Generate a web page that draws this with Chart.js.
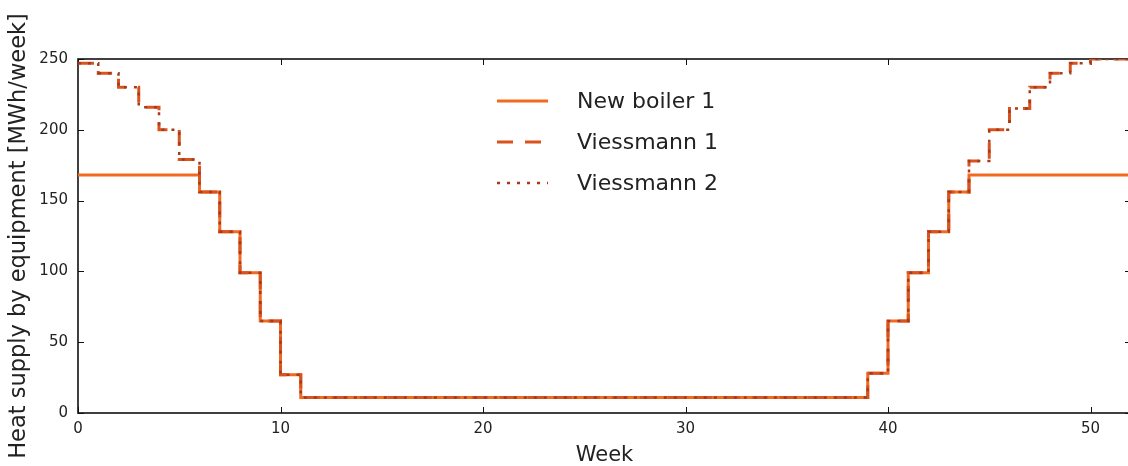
<!DOCTYPE html>
<html>
<head>
<meta charset="utf-8">
<script src="https://cdn.jsdelivr.net/npm/chart.js@4/dist/chart.umd.min.js"></script>
<style>
  html, body { margin: 0; padding: 0; background: #fff; overflow: hidden; }
</style>
</head>
<body>
<canvas id="heat__chart" width="1132" height="466"></canvas>
<script>
// week edges (0..52), each value holds from week i to week i+1
const weeks = [0, 1, 2, 3, 4, 5, 6, 7, 8, 9, 10, 11, 12, 13, 14, 15, 16, 17, 18, 19, 20,
  21, 22, 23, 24, 25, 26, 27, 28, 29, 30, 31, 32, 33, 34, 35, 36, 37, 38, 39, 40,
  41, 42, 43, 44, 45, 46, 47, 48, 49, 50, 51, 52];

const newBoiler1 = [168, 168, 168, 168, 168, 168, 156, 128, 99, 65, 27,
  11, 11, 11, 11, 11, 11, 11, 11, 11, 11, 11, 11, 11, 11, 11, 11, 11, 11, 11,
  11, 11, 11, 11, 11, 11, 11, 11, 11,
  28, 65, 99, 128, 156, 168, 168, 168, 168, 168, 168, 168, 168];

const viessmann1 = [247, 240, 230, 216, 200, 179, 156, 128, 99, 65, 27,
  11, 11, 11, 11, 11, 11, 11, 11, 11, 11, 11, 11, 11, 11, 11, 11, 11, 11, 11,
  11, 11, 11, 11, 11, 11, 11, 11, 11,
  28, 65, 99, 128, 156, 178, 200, 215, 230, 240, 247, 250, 250];

const viessmann2 = [247, 240, 230, 216, 200, 179, 156, 128, 99, 65, 27,
  11, 11, 11, 11, 11, 11, 11, 11, 11, 11, 11, 11, 11, 11, 11, 11, 11, 11, 11,
  11, 11, 11, 11, 11, 11, 11, 11, 11,
  28, 65, 99, 128, 156, 178, 200, 215, 230, 240, 247, 250, 250];

const seriesNames = ["New boiler 1", "Viessmann 1", "Viessmann 2"];
const xTicks = [0, 10, 20, 30, 40, 50];
const yTicks = [0, 50, 100, 150, 200, 250];

function toSteps(values) {
  return weeks.map((w, i) => ({ x: w, y: values[Math.min(i, values.length - 1)] }));
}

// ---------------------------------------- frame + inward ticks
const frameTicks = {
  id: "frameTicks",
  beforeDatasetsDraw(chart) {
    const { ctx, chartArea: a, scales } = chart;
    ctx.save();
    ctx.strokeStyle = "#111";
    ctx.lineWidth = 1;
    scales.x.ticks.forEach((t) => {
      const px = Math.round(scales.x.getPixelForValue(t.value)) + 0.5;
      ctx.beginPath();
      ctx.moveTo(px, a.bottom); ctx.lineTo(px, a.bottom - 6);
      ctx.moveTo(px, a.top); ctx.lineTo(px, a.top + 6);
      ctx.stroke();
    });
    scales.y.ticks.forEach((t) => {
      const py = Math.round(scales.y.getPixelForValue(t.value)) + 0.5;
      ctx.beginPath();
      ctx.moveTo(a.left, py); ctx.lineTo(a.left + 6, py);
      ctx.moveTo(a.right, py); ctx.lineTo(a.right - 6, py);
      ctx.stroke();
    });
    ctx.lineWidth = 1.6;
    ctx.strokeRect(a.left, a.top, a.right - a.left, a.bottom - a.top);
    ctx.restore();
  },
};

// ---------------------------------------- legend without frame
const plainLegend = {
  id: "plainLegend",
  afterDatasetsDraw(chart) {
    const ctx = chart.ctx;
    ctx.save();
    ctx.font = "22px 'DejaVu Sans'";
    ctx.textBaseline = "middle";
    ctx.fillStyle = "#222";
    chart.data.datasets.forEach((ds, i) => {
      const y = 101 + i * 41;
      ctx.strokeStyle = ds.borderColor;
      ctx.lineWidth = ds.borderWidth;
      ctx.setLineDash(ds.borderDash || []);
      ctx.beginPath();
      ctx.moveTo(497, y);
      ctx.lineTo(548, y);
      ctx.stroke();
      ctx.setLineDash([]);
      ctx.fillText(ds.label, 577, y + 1);
    });
    ctx.restore();
  },
};

var heatChart = new Chart(document.getElementById("heat__chart"), {
  type: "line",
  data: {
    datasets: [
      {
        label: seriesNames[0],
        data: toSteps(newBoiler1),
        borderColor: "#f26a1f",
        borderWidth: 3,
        stepped: "before",
        pointRadius: 0,
        order: 3,
      },
      {
        label: seriesNames[1],
        data: toSteps(viessmann1),
        borderColor: "#d9531e",
        borderWidth: 3,
        borderDash: [16, 12],
        stepped: "before",
        pointRadius: 0,
        order: 2,
      },
      {
        label: seriesNames[2],
        data: toSteps(viessmann2),
        borderColor: "#a83a1c",
        borderWidth: 2.5,
        borderDash: [3, 7],
        stepped: "before",
        pointRadius: 0,
        order: 1,
      },
    ],
  },
  options: {
    responsive: false,
    animation: false,
    devicePixelRatio: 1,
    layout: { padding: { top: 59, right: 1, bottom: 0, left: 0 } },
    plugins: { legend: { display: false }, tooltip: { enabled: false } },
    scales: {
      x: {
        type: "linear",
        min: 0,
        max: 52,
        afterBuildTicks: (s) => { s.ticks = xTicks.map((v) => ({ value: v })); },
        afterFit: (s) => { s.height = 53; },
        grid: { display: false, drawTicks: false },
        border: { display: false },
        ticks: { padding: 7, color: "#222", font: { family: "DejaVu Sans", size: 15 }, maxRotation: 0 },
        title: {
          display: true,
          text: "Week",
          color: "#222",
          font: { family: "DejaVu Sans", size: 21, lineHeight: 1 },
          padding: { top: 0, bottom: 0 },
        },
      },
      y: {
        min: 0,
        max: 250,
        afterBuildTicks: (s) => { s.ticks = yTicks.map((v) => ({ value: v })); },
        afterFit: (s) => { s.width = 78; },
        grid: { display: false, drawTicks: false },
        border: { display: false },
        ticks: { padding: 10, color: "#222", font: { family: "DejaVu Sans", size: 15 } },
        title: {
          display: true,
          text: "Heat supply by equipment [MWh/week]",
          color: "#222",
          font: { family: "DejaVu Sans", size: 22.5, lineHeight: 1 },
          padding: { top: 8, bottom: 0 },
          align: "center",
        },
      },
    },
  },
  plugins: [frameTicks, plainLegend],
});
</script>
</body>
</html>
